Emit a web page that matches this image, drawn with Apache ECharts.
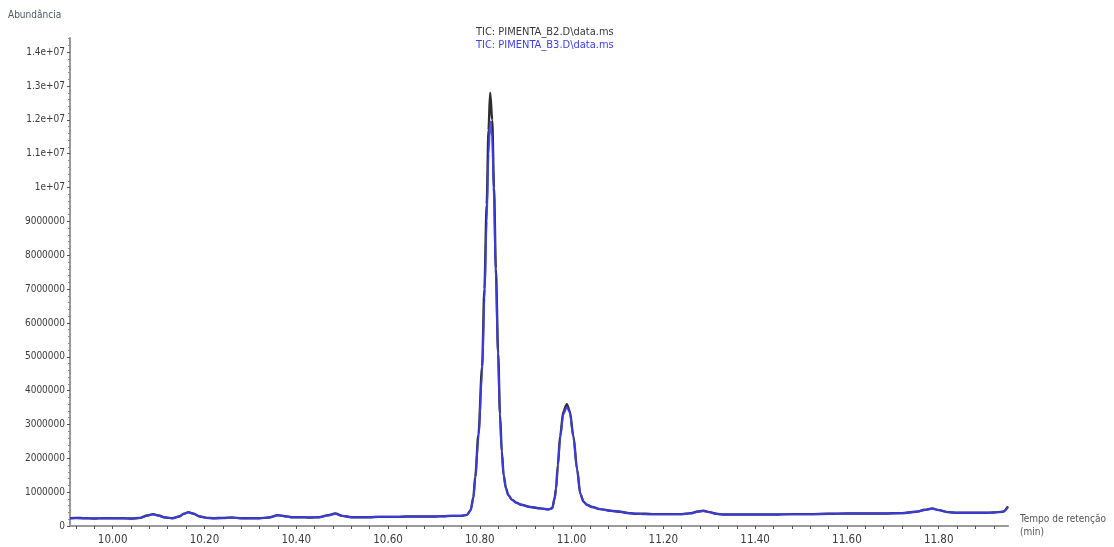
<!DOCTYPE html>
<html>
<head>
<meta charset="utf-8">
<title>TIC PIMENTA</title>
<script src="https://cdn.jsdelivr.net/npm/echarts@6/dist/echarts.min.js"></script>
<style>
  html, body { margin: 0; padding: 0; background: #ffffff; }
  #chart { width: 1114px; height: 547px; }
</style>
</head>
<body>
<div id="chart"></div>
<script>
// Retention time (min)
const retentionTime = [
  9.907, 9.92, 9.94, 9.96, 9.98, 10.00, 10.02, 10.04, 10.06, 10.075,
  10.088, 10.10, 10.115, 10.13, 10.145, 10.155, 10.165, 10.175, 10.19, 10.205,
  10.22, 10.24, 10.26, 10.28, 10.30, 10.32, 10.34, 10.36, 10.375, 10.39,
  10.41, 10.43, 10.45, 10.47, 10.485, 10.50, 10.52, 10.54, 10.56, 10.58,
  10.60, 10.62, 10.64, 10.66, 10.68, 10.70, 10.72, 10.74, 10.76, 10.772,
  10.78, 10.786, 10.790, 10.797, 10.805, 10.810, 10.815, 10.819, 10.8226, 10.827,
  10.831, 10.835, 10.840, 10.844, 10.848, 10.852, 10.857, 10.862, 10.870, 10.880,
  10.890, 10.910, 10.932, 10.950, 10.958, 10.963, 10.966, 10.970, 10.975, 10.982,
  10.9897, 10.996, 11.004, 11.012, 11.019, 11.026, 11.033, 11.045, 11.062, 11.085,
  11.106, 11.125, 11.142, 11.16, 11.18, 11.20, 11.22, 11.24, 11.26, 11.275,
  11.287, 11.30, 11.315, 11.33, 11.36, 11.40, 11.44, 11.48, 11.52, 11.56,
  11.60, 11.64, 11.68, 11.72, 11.75, 11.77, 11.786, 11.80, 11.82, 11.84,
  11.86, 11.88, 11.90, 11.92, 11.94, 11.951
];

// Abundance, PIMENTA_B2 (millions)
const abundanceB2 = [
  0.23, 0.24, 0.23, 0.22, 0.23, 0.23, 0.23, 0.22, 0.24, 0.31,
  0.35, 0.31, 0.25, 0.23, 0.28, 0.36, 0.41, 0.37, 0.28, 0.24,
  0.23, 0.24, 0.25, 0.23, 0.23, 0.23, 0.25, 0.32, 0.29, 0.26,
  0.26, 0.25, 0.26, 0.32, 0.37, 0.30, 0.26, 0.26, 0.26, 0.27,
  0.27, 0.27, 0.28, 0.28, 0.28, 0.28, 0.29, 0.30, 0.30, 0.33,
  0.47, 0.85, 1.45, 2.70, 4.70, 7.00, 9.50, 11.7, 12.8, 12.0,
  10.0, 7.60, 5.10, 3.30, 2.20, 1.50, 1.12, 0.92, 0.78, 0.69,
  0.63, 0.56, 0.52, 0.49, 0.53, 0.82, 1.10, 1.80, 2.65, 3.38,
  3.60, 3.40, 2.65, 1.68, 0.95, 0.72, 0.63, 0.56, 0.50, 0.45,
  0.42, 0.38, 0.36, 0.36, 0.35, 0.35, 0.35, 0.35, 0.38, 0.43,
  0.45, 0.41, 0.36, 0.34, 0.34, 0.34, 0.34, 0.35, 0.35, 0.36,
  0.37, 0.37, 0.37, 0.38, 0.42, 0.48, 0.52, 0.47, 0.41, 0.39,
  0.39, 0.39, 0.39, 0.40, 0.42, 0.58
];

// Abundance, PIMENTA_B3 (millions)
const abundanceB3 = [
  0.23, 0.23, 0.23, 0.23, 0.23, 0.23, 0.23, 0.22, 0.24, 0.30,
  0.34, 0.30, 0.25, 0.23, 0.28, 0.36, 0.40, 0.37, 0.28, 0.24,
  0.23, 0.23, 0.24, 0.23, 0.23, 0.23, 0.25, 0.31, 0.29, 0.26,
  0.26, 0.25, 0.26, 0.31, 0.36, 0.30, 0.26, 0.26, 0.26, 0.27,
  0.27, 0.27, 0.28, 0.28, 0.28, 0.28, 0.29, 0.30, 0.30, 0.33,
  0.46, 0.82, 1.40, 2.60, 4.50, 6.70, 9.00, 11.0, 11.95, 11.5,
  9.60, 7.30, 4.90, 3.20, 2.15, 1.47, 1.10, 0.91, 0.77, 0.68,
  0.63, 0.56, 0.52, 0.49, 0.52, 0.80, 1.07, 1.74, 2.58, 3.30,
  3.52, 3.35, 2.62, 1.66, 0.95, 0.72, 0.63, 0.56, 0.50, 0.45,
  0.42, 0.38, 0.36, 0.35, 0.35, 0.35, 0.35, 0.35, 0.37, 0.42,
  0.44, 0.41, 0.36, 0.34, 0.34, 0.34, 0.34, 0.35, 0.35, 0.36,
  0.37, 0.37, 0.37, 0.38, 0.42, 0.47, 0.51, 0.47, 0.41, 0.39,
  0.39, 0.39, 0.39, 0.40, 0.42, 0.56
];

const seriesNames = ['TIC: PIMENTA_B2.D\\data.ms', 'TIC: PIMENTA_B3.D\\data.ms'];
const seriesColors = ['#2e2e2e', '#3d3df4'];

// Axis tick labels
const xLabelValues = [10.0, 10.2, 10.4, 10.6, 10.8, 11.0, 11.2, 11.4, 11.6, 11.8];
const xTickValues = [
  9.92, 9.96, 10.00, 10.04, 10.08, 10.12, 10.16, 10.20, 10.24, 10.28,
  10.32, 10.36, 10.40, 10.44, 10.48, 10.52, 10.56, 10.60, 10.64, 10.68,
  10.72, 10.76, 10.80, 10.84, 10.88, 10.92, 10.96, 11.00, 11.04, 11.08,
  11.12, 11.16, 11.20, 11.24, 11.28, 11.32, 11.36, 11.40, 11.44, 11.48,
  11.52, 11.56, 11.60, 11.64, 11.68, 11.72, 11.76, 11.80, 11.84, 11.88,
  11.92
];
const yLabelValues = [
  0, 1000000, 2000000, 3000000, 4000000, 5000000, 6000000, 7000000,
  8000000, 9000000, 10000000, 11000000, 12000000, 13000000, 14000000
];

const FONT = "'DejaVu Sans Condensed', 'Liberation Sans Narrow', 'Arial Narrow', sans-serif";

function pairs(values) {
  return retentionTime.map((t, i) => [t, values[i] * 1e6]);
}

function formatAbundance(v) {
  if (v >= 1e7) {
    const m = Math.round(v / 1e6) / 10;
    return m + 'e+07';
  }
  return String(Math.round(v));
}

const chart = echarts.init(document.getElementById('chart'), null, { renderer: 'canvas' });

chart.setOption({
  animation: false,
  backgroundColor: '#ffffff',
  grid: { left: 70, right: 106, top: 38, bottom: 21 },
  legend: {
    data: [
      { name: seriesNames[0], textStyle: { color: '#3a3a3a' } },
      { name: seriesNames[1], textStyle: { color: '#3d3df4' } }
    ],
    orient: 'vertical',
    left: 466,
    top: 20,
    icon: 'none',
    itemWidth: 0,
    itemHeight: 14,
    itemGap: 1,
    selectedMode: false,
    textStyle: { fontFamily: FONT, fontSize: 11, padding: 0 }
  },
  graphic: [
    {
      type: 'text',
      left: 8,
      top: 10,
      style: { text: 'Abundância', font: '10px ' + FONT, fill: '#4d5668' }
    }
  ],
  xAxis: {
    type: 'value',
    min: 9.907,
    max: 11.951,
    name: 'Tempo de retenção\n(min)',
    nameLocation: 'end',
    nameGap: 12,
    nameTextStyle: {
      fontFamily: FONT, fontSize: 10, color: '#555555',
      align: 'left', verticalAlign: 'middle', lineHeight: 13
    },
    splitLine: { show: false },
    axisLine: { lineStyle: { color: '#9a9a9a', width: 2 } },
    axisTick: {
      customValues: xTickValues,
      inside: false,
      length: 3,
      lineStyle: { color: '#505050', width: 1 }
    },
    axisLabel: {
      customValues: xLabelValues,
      formatter: v => v.toFixed(2),
      margin: 8,
      fontFamily: FONT,
      fontSize: 11.5,
      color: '#3c3c3c'
    }
  },
  yAxis: {
    type: 'value',
    min: 0,
    max: 14420000,
    interval: 1000000,
    splitLine: { show: false },
    axisLine: { show: true, lineStyle: { color: '#9a9a9a', width: 2 } },
    axisTick: {
      show: true,
      customValues: yLabelValues,
      length: 3,
      lineStyle: { color: '#505050', width: 1 }
    },
    minorTick: {
      show: true,
      splitNumber: 5,
      length: 2,
      lineStyle: { color: '#8a8a8a', width: 1 }
    },
    axisLabel: {
      customValues: yLabelValues,
      formatter: formatAbundance,
      margin: 5,
      fontFamily: FONT,
      fontSize: 10,
      color: '#3c3c3c'
    }
  },
  series: [
    {
      name: seriesNames[0],
      type: 'line',
      data: pairs(abundanceB2),
      showSymbol: false,
      smooth: 0.3,
      smoothMonotone: 'x',
      lineStyle: { color: seriesColors[0], width: 2.4 },
      itemStyle: { color: seriesColors[0] },
      z: 2
    },
    {
      name: seriesNames[1],
      type: 'line',
      data: pairs(abundanceB3),
      showSymbol: false,
      smooth: 0.3,
      smoothMonotone: 'x',
      lineStyle: { color: seriesColors[1], width: 2, opacity: 0.9 },
      itemStyle: { color: seriesColors[1] },
      z: 3
    }
  ]
});
</script>
</body>
</html>
